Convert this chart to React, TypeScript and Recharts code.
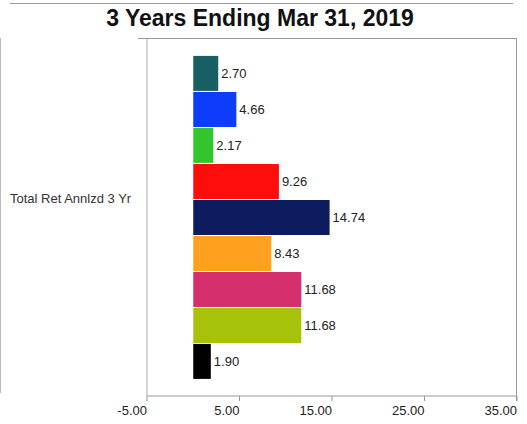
import { BarChart, Bar, XAxis, YAxis, LabelList } from 'recharts';

const category = 'Total Ret Annlzd 3 Yr';
const seriesKeys = ['s0', 's1', 's2', 's3', 's4', 's5', 's6', 's7', 's8'];
const seriesValues = [2.7, 4.66, 2.17, 9.26, 14.74, 8.43, 11.68, 11.68, 1.9];
const seriesColors = [
  '#175f63',
  '#0d3dfb',
  '#33c42e',
  '#ff0d0d',
  '#0c1c5e',
  '#ffa01e',
  '#d52f6e',
  '#a8c20c',
  '#000000',
];
const xTicks = [-5, 5, 15, 25, 35];

const row: Record<string, string | number> = { name: category };
seriesKeys.forEach((k, i) => {
  row[k] = seriesValues[i];
});
const data = [row];

const XTick = (props: any) => {
  const { x, y, payload } = props;
  return (
    <text x={x} y={y} dy={12} textAnchor="end" fontSize={13} fill="#222">
      {Number(payload.value).toFixed(2)}
    </text>
  );
};

const YTick = (props: any) => {
  const { y, payload } = props;
  return (
    <text x={10} y={y} dy={-14} textAnchor="start" fontSize={13} fill="#333">
      {payload.value}
    </text>
  );
};

export default function App() {
  return (
    <div
      style={{
        position: 'absolute',
        left: 0,
        top: 0,
        width: 527,
        height: 424,
        background: '#fff',
        fontFamily: 'Arial, "Liberation Sans", sans-serif',
      }}
    >
      <div style={{ position: 'absolute', left: 10, top: 3, width: 503, borderTop: '1px solid #999' }} />
      <div
        style={{
          position: 'absolute',
          left: 0,
          top: 4,
          width: 520,
          textAlign: 'center',
          fontSize: 23,
          fontWeight: 'bold',
          lineHeight: '28px',
          color: '#111',
        }}
      >
        3 Years Ending Mar 31, 2019
      </div>
      <div style={{ position: 'absolute', left: 0, top: 38, height: 355, borderLeft: '1px solid #bbb' }} />
      <BarChart
        width={527}
        height={424}
        data={data}
        layout="vertical"
        margin={{ top: 38, right: 10, bottom: 0, left: 0 }}
        barCategoryGap="5%"
        barGap={1}
        style={{ position: 'absolute', left: 0, top: 0 }}
      >
        <XAxis
          type="number"
          domain={[-5, 35]}
          ticks={xTicks}
          height={28}
          axisLine={{ stroke: '#999' }}
          tickLine={{ stroke: '#999' }}
          tickSize={5}
          tick={<XTick />}
          interval={0}
        />
        <YAxis
          type="category"
          dataKey="name"
          width={147}
          axisLine={{ stroke: '#aaa' }}
          tickLine={false}
          tick={<YTick />}
        />
        {seriesKeys.map((k, i) => (
          <Bar key={k} dataKey={k} fill={seriesColors[i]} isAnimationActive={false}>
            <LabelList
              dataKey={k}
              position="right"
              offset={3}
              fontSize={13}
              fill="#222"
              formatter={(v: any) => Number(v).toFixed(2)}
            />
          </Bar>
        ))}
      </BarChart>
      <div style={{ position: 'absolute', left: 138, top: 38, width: 379, borderTop: '1px solid #999' }} />
      <div style={{ position: 'absolute', left: 516, top: 38, height: 363, borderLeft: '1px solid #999' }} />
    </div>
  );
}
